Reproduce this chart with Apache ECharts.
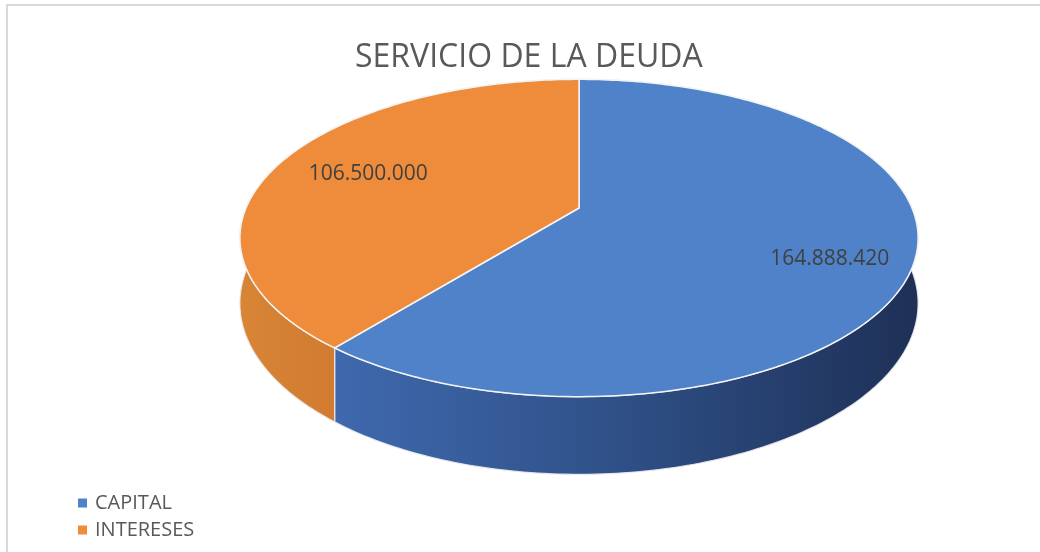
<!DOCTYPE html>
<html>
<head>
<meta charset="utf-8">
<script src="https://cdn.jsdelivr.net/npm/echarts@6/dist/echarts.min.js"></script>
<style>
  html, body { margin: 0; padding: 0; background: #fff; }
  #chart { width: 1040px; height: 552px; }
</style>
</head>
<body>
<div id="chart"></div>
<script>
const categories = ['CAPITAL', 'INTERESES']
const values = [164888420, 106500000]
const valueLabels = ['164.888.420', '106.500.000']

const topColors = ['#4F82C9', '#EE8C3C']
const wallColors = [
  ['#3F69AE', '#30528A', '#1E3056'],
  ['#D88536', '#CC752D', '#C66F29'],
]
const labelRadius = [0.76, 0.7]
const labelShiftY = [11, 0]

// geometria del pastel 3D (perspectiva simple)
const pie = { cx: 579, cy: 208, rx: 333, ry: 153, k: 0.189, depth: 63 }

const total = values.reduce((a, b) => a + b, 0)

function project(theta, r, h) {
  const u = r * Math.sin(theta)
  const v = -r * Math.cos(theta)
  const s = 1 / (1 - pie.k * v)
  return [pie.cx + pie.rx * u * s, pie.cy + (pie.ry * v + h * pie.depth) * s]
}

function renderSlice(i, api) {
  let before = 0
  for (let j = 0; j < i; j++) before += values[j]
  const start = (2 * Math.PI * before) / total
  const end = start + (2 * Math.PI * api.value(0)) / total
  const steps = Math.max(4, Math.ceil((end - start) / (Math.PI / 180)))

  const rimTop = []
  const rimBottom = []
  for (let n = 0; n <= steps; n++) {
    const t = start + ((end - start) * n) / steps
    rimTop.push(project(t, 1, 0))
    rimBottom.push(project(t, 1, 1))
  }
  const wall = rimTop.concat(rimBottom.slice().reverse())
  const top = [project(0, 0, 0)].concat(rimTop)
  const mid = (start + end) / 2
  const lp = project(mid, labelRadius[i], 0)
  const wc = wallColors[i]

  return {
    type: 'group',
    children: [
      {
        type: 'polygon',
        z2: 1,
        shape: { points: wall },
        style: {
          fill: new echarts.graphic.LinearGradient(0, 0, 1, 0, [
            { offset: 0, color: wc[0] },
            { offset: 0.45, color: wc[1] },
            { offset: 1, color: wc[2] },
          ]),
          stroke: 'rgba(235,235,240,0.9)',
          lineWidth: 1.2,
        },
      },
      {
        type: 'polygon',
        z2: 10,
        shape: { points: top },
        style: { fill: topColors[i], stroke: '#f4f4f4', lineWidth: 1.5 },
      },
      {
        type: 'text',
        z2: 20,
        x: lp[0],
        y: lp[1] + labelShiftY[i],
        style: {
          text: valueLabels[i],
          fill: '#404040',
          fontSize: 21,
          fontFamily: 'Open Sans',
          align: 'center',
          verticalAlign: 'middle',
        },
      },
    ],
  }
}

const chart = echarts.init(document.getElementById('chart'))
const option = {
  animation: false,
  title: {
    text: 'SERVICIO DE LA DEUDA',
    left: 350,
    top: 37,
    textStyle: {
      fontFamily: 'Open Sans',
      fontSize: 32,
      fontWeight: 'normal',
      color: '#595959',
    },
  },
  legend: {
    orient: 'vertical',
    left: 73,
    top: 488,
    icon: 'rect',
    itemWidth: 9,
    itemHeight: 9,
    itemGap: 7,
    textStyle: {
      fontFamily: 'Open Sans',
      fontSize: 20,
      color: '#595959',
      lineHeight: 20,
      padding: [0, 0, 0, 3],
    },
    data: categories,
  },
  graphic: [
    {
      type: 'rect',
      silent: true,
      z: -1,
      shape: { x: 7, y: 5, width: 1100, height: 600 },
      style: { fill: 'none', stroke: '#d9d9d9', lineWidth: 2 },
    },
  ],
  series: categories.map(function (name, i) {
    return {
      type: 'custom',
      name: name,
      coordinateSystem: 'none',
      itemStyle: { color: topColors[i] },
      renderItem: function (params, api) {
        return renderSlice(i, api)
      },
      data: [values[i]],
    }
  }),
}
chart.setOption(option)
</script>
</body>
</html>
